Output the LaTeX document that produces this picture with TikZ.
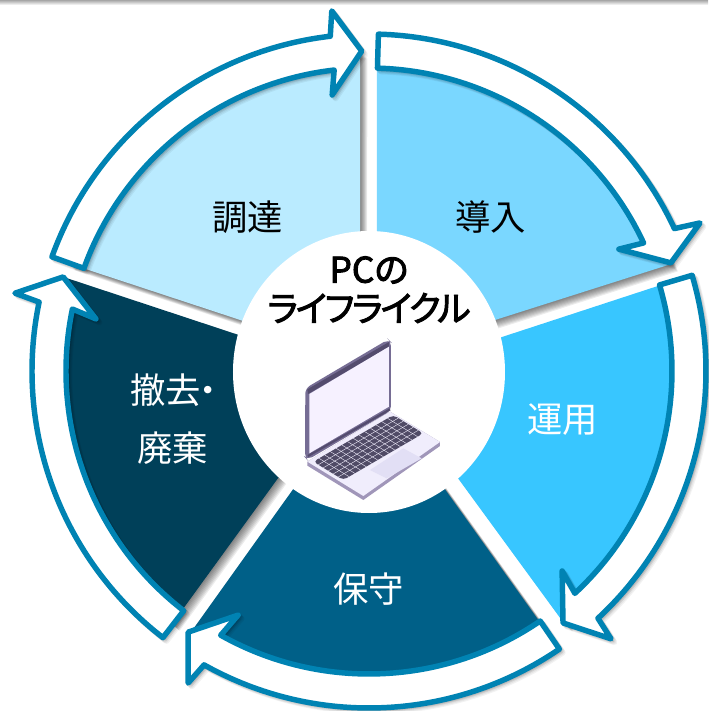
\documentclass[tikz,border=0pt]{standalone}
\usepackage{fontspec}
\newfontfamily\jp{Noto Sans CJK JP}
\newfontfamily\jpb[FakeBold=2.6,RawFeature={+palt}]{Noto Sans CJK JP}
\definecolor{arrowblue}{RGB}{0,131,179}
\definecolor{secA}{RGB}{186,235,255}
\definecolor{secB}{RGB}{122,215,255}
\definecolor{secC}{RGB}{56,198,255}
\definecolor{secD}{RGB}{0,96,136}
\definecolor{secE}{RGB}{0,64,89}
\definecolor{lidc}{RGB}{118,109,148}
\definecolor{liddark}{RGB}{84,76,110}
\definecolor{screenc}{RGB}{246,241,255}
\definecolor{basec}{RGB}{240,237,252}
\definecolor{edgec}{RGB}{160,150,185}
\definecolor{keyc}{RGB}{80,75,102}
\definecolor{padc}{RGB}{226,223,245}
\tikzset{
  lifearrow/.style={draw=arrowblue,fill=white,line width=4.1pt,line join=round},
  label/.style={font=\jp\fontsize{26.5}{30}\selectfont,inner sep=0pt},
  title/.style={font=\jpb\fontsize{26.5}{30}\selectfont,inner sep=0pt,text=black},
}
\newcommand{\softsector}[1]{%
  \foreach \i in {1,...,8}{\fill[black,opacity=.075,shift={(\i*.9,-\i*.9)}] #1;}}
\newcommand{\lifearr}[8]{%
  \foreach \i in {1,...,4}{\fill[black,opacity=.05,line width=4.1pt,draw=black,draw opacity=.05,line join=round,shift={(\i*.9,-\i*.9)}]
    (#1:337) arc[start angle=#1,end angle=#2,radius=337] -- (#3:#4) -- (#5:#6) -- (#7:#8) -- (#2:303) arc[start angle=#2,end angle=#1,radius=303] -- cycle;}
  \draw[lifearrow]
    (#1:337) arc[start angle=#1,end angle=#2,radius=337] -- (#3:#4) -- (#5:#6) -- (#7:#8) -- (#2:303) arc[start angle=#2,end angle=#1,radius=303] -- cycle;}
\def\pA{(-9,11.5) -- (160.3:320) arc[start angle=160.3,end angle=91.6,radius=320] -- cycle}
\def\pB{(8,13.5) -- (88.6:320) arc[start angle=88.6,end angle=19.5,radius=320] -- cycle}
\def\pC{(14.2,-4.9) -- (16.5:320) arc[start angle=16.5,end angle=-52.3,radius=320] -- cycle}
\def\pD{(0,-12) -- (235.7:320) arc[start angle=235.7,end angle=304.3,radius=320] -- cycle}
\def\pE{(-14.7,-2.2) -- (162.9:320) arc[start angle=162.9,end angle=232.1,radius=320] -- cycle}
\begin{document}
\begin{tikzpicture}[x=.75pt,y=.75pt]
\useasboundingbox (-369,-340) rectangle (339,371);
\fill[white] (-369,-340) rectangle (339,371);
\shade[top color=black!35,bottom color=white] (-369,371) rectangle (339,366);
% sector shadows
\softsector{\pA}\softsector{\pB}\softsector{\pC}\softsector{\pD}\softsector{\pE}
% sectors
\fill[secA] \pA;
\fill[secB] \pB;
\fill[secC] \pC;
\fill[secD] \pD;
\fill[secE] \pE;
% hub
\fill[white] (0,-1) ellipse [x radius=136,y radius=141];
% arrows
\lifearr{88.4}{25}{24.1}{362.6}{19.7}{320.7}{26}{278}
\lifearr{16.5}{-47.2}{-47.9}{361}{-52.4}{318}{-46}{278}
\lifearr{-55.6}{-119.3}{-120.1}{360.7}{-124.7}{317.6}{-118.2}{277}
\lifearr{232.3}{168.2}{167.6}{362.5}{162.9}{320}{169.2}{278}
\lifearr{160.2}{96.6}{95.9}{362}{91.3}{320}{97.6}{278.5}
% labels
\node[label,text=black] (procure) at (-121,154) {調達};
\node[label,text=black] (install) at (122,154) {導入};
\node[label,text=white] (operate) at (194,-49) {運用};
\node[label,text=white] (maintain) at (0,-218) {保守};
\node[label,text=white,anchor=west] (remove) at (-239,-19) {撤去\hspace{-.3em}・};
\node[label,text=white] (dispose) at (-196,-77) {廃棄};
\node[title] (t1) at (0,101) {PCの};
\node[title] (t2) at (0,63) {\addfontfeature{LetterSpace=-6}ライフライクル};
% laptop
\begin{scope}[shift={(-89,51)},x=.25pt,y=-.25pt]
  % base
  \fill[edgec] (82,425) -- (82,437) -- (250,540) -- (480,378) -- (480,366) -- (330,275) -- cycle;
  \fill[basec] (82,425) -- (250,528) -- (480,366) -- (330,275) -- cycle;
  % keyboard
  \fill[keyc,rounded corners=3pt] (100,425) -- (340,285) -- (430,340) -- (190,480) -- cycle;
  \foreach \t in {1,...,5}{
    \draw[basec,line width=.3pt] ({100+\t/6*90},{425+\t/6*55}) -- ({340+\t/6*90},{285+\t/6*55});}
  \foreach \t in {1,...,13}{
    \draw[basec,line width=.3pt] ({100+\t/14*240},{425-\t/14*140}) -- ({190+\t/14*240},{480-\t/14*140});}
  % trackpad
  \fill[padc] (270,450) -- (370,385) -- (425,415) -- (320,475) -- cycle;
  % lid
  \fill[lidc,rounded corners=4pt] (76,205) -- (325,58) -- (333,66) -- (333,272) -- (82,420) -- (75,412) -- cycle;
  \fill[liddark] (82,208) -- (327,66) -- (327,80) -- (84,222) -- cycle;
  \fill[screenc] (88,222) -- (327,80) -- (327,260) -- (88,400) -- cycle;
  \draw[liddark,line width=1.6pt] (84,408) -- (330,268);
\end{scope}
\end{tikzpicture}
\end{document}
